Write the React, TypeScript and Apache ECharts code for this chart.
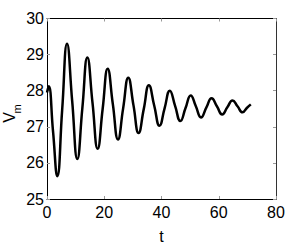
import React, { useEffect, useRef } from "react";
import * as echarts from "echarts";

const tValues = [0, 0.6, 2.1, 3.6, 5.3, 7.0, 8.8, 10.6, 12.35, 14.1, 15.9, 17.7, 19.45, 21.2, 23.0, 24.8, 26.6, 28.4, 30.2, 32.0, 33.8, 35.6, 37.45, 39.3, 41.1, 42.9, 44.75, 46.6, 48.4, 50.2, 52.0, 53.8, 55.65, 57.5, 59.35, 61.2, 63.0, 64.8, 66.55, 68.3, 69.8, 71.2];
const vmValues = [27.95, 28.12, 26.88, 25.63, 27.47, 29.3, 27.71, 26.11, 27.52, 28.92, 27.66, 26.39, 27.5, 28.61, 27.63, 26.65, 27.51, 28.36, 27.6, 26.83, 27.49, 28.15, 27.59, 27.03, 27.52, 28.0, 27.58, 27.16, 27.52, 27.87, 27.57, 27.26, 27.53, 27.79, 27.57, 27.34, 27.54, 27.73, 27.57, 27.4, 27.52, 27.62];
const xTicks = [0, 20, 40, 60, 80];
const yTicks = [25, 26, 27, 28, 29, 30];

const FONT = "'Liberation Sans', Arial, Helvetica, sans-serif";

export default function App() {
  const ref = useRef<HTMLDivElement>(null);
  useEffect(() => {
    if (!ref.current) return;
    const chart = echarts.init(ref.current, null, { renderer: "svg" });
    const tickStyle = { show: true, inside: true, length: 3, lineStyle: { color: "#999", width: 1 } };
    chart.setOption({
      animation: false,
      backgroundColor: "#fff",
      grid: { left: 47, right: 29, top: 18.5, bottom: 41, containLabel: false },
      xAxis: [
        {
          type: "value",
          position: "bottom",
          min: xTicks[0],
          max: xTicks[xTicks.length - 1],
          interval: 20,
          name: "t",
          nameLocation: "middle",
          nameGap: 29,
          nameTextStyle: { color: "#000", fontSize: 16, fontFamily: FONT },
          axisLine: { show: true, lineStyle: { color: "#000", width: 1 } },
          axisTick: tickStyle,
          axisLabel: { color: "#000", fontSize: 16, fontFamily: FONT, margin: 5 },
          splitLine: { show: false },
        },
        {
          type: "value",
          position: "top",
          min: xTicks[0],
          max: xTicks[xTicks.length - 1],
          interval: 20,
          axisLine: { show: true, onZero: false, lineStyle: { color: "#000", width: 1 } },
          axisTick: tickStyle,
          axisLabel: { show: false },
          splitLine: { show: false },
        },
      ],
      yAxis: [
        {
          type: "value",
          position: "left",
          min: yTicks[0],
          max: yTicks[yTicks.length - 1],
          interval: 1,
          axisLine: { show: true, lineStyle: { color: "#000", width: 1 } },
          axisTick: tickStyle,
          axisLabel: { color: "#000", fontSize: 16, fontFamily: FONT, margin: 3 },
          splitLine: { show: false },
        },
        {
          type: "value",
          position: "right",
          min: yTicks[0],
          max: yTicks[yTicks.length - 1],
          interval: 1,
          axisLine: { show: true, onZero: false, lineStyle: { color: "#333", width: 1 } },
          axisTick: tickStyle,
          axisLabel: { show: false },
          splitLine: { show: false },
        },
      ],
      graphic: [
        {
          type: "text",
          x: 9,
          y: 117.5,
          rotation: Math.PI / 2,
          style: { text: "V", fontSize: 16, fontFamily: FONT, fill: "#000", align: "center", verticalAlign: "middle" },
        },
        {
          type: "text",
          x: 17,
          y: 109,
          rotation: Math.PI / 2,
          style: { text: "m", fontSize: 11, fontFamily: FONT, fill: "#000", align: "center", verticalAlign: "middle" },
        },
      ],
      series: [
        {
          type: "line",
          xAxisIndex: 0,
          yAxisIndex: 0,
          data: tValues.map((t, i) => [t, vmValues[i]]),
          smooth: 0.5,
          showSymbol: false,
          lineStyle: { color: "#000", width: 2.5 },
        },
      ],
    });
    return () => chart.dispose();
  }, []);
  return <div ref={ref} style={{ position: "fixed", left: 0, top: 0, width: 305, height: 249 }} />;
}
